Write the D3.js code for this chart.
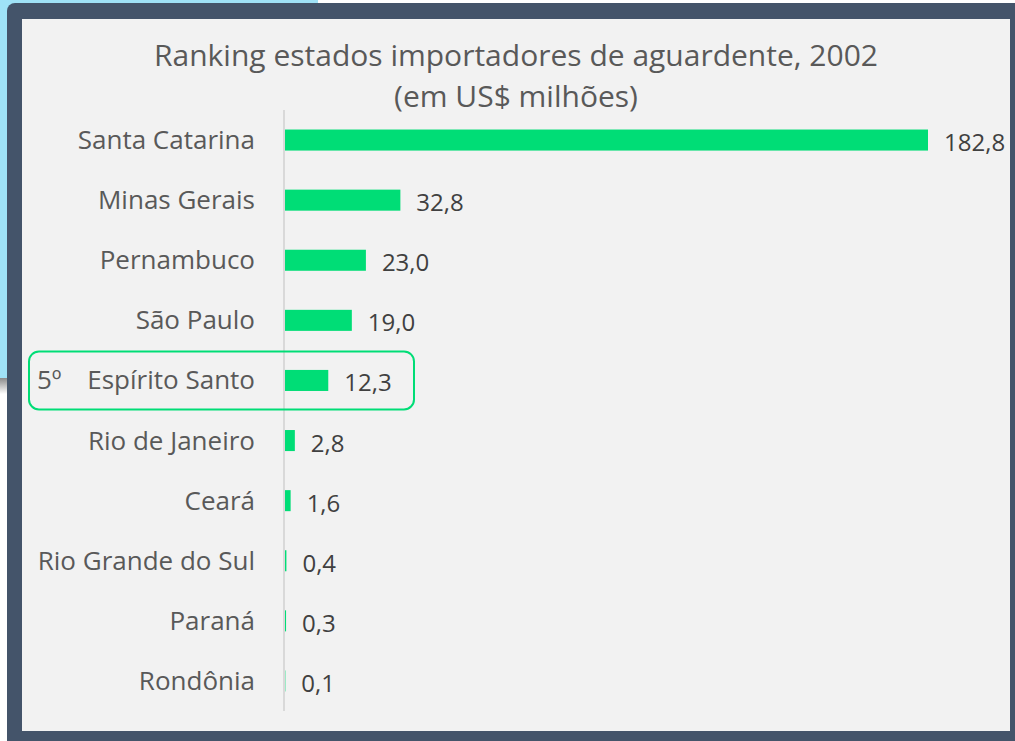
<!DOCTYPE html>
<html>
<head>
<meta charset="utf-8">
<script src="https://cdn.jsdelivr.net/npm/d3@7"></script>
<style>
  html, body { margin: 0; padding: 0; background: #ffffff; }
  svg { display: block; font-family: "Open Sans", "Noto Sans", sans-serif; }
</style>
</head>
<body>
<div id="dataviz"></div>
<script>
const states = ["Santa Catarina", "Minas Gerais", "Pernambuco", "São Paulo", "Espírito Santo",
  "Rio de Janeiro", "Ceará", "Rio Grande do Sul", "Paraná", "Rondônia"];
const values = [182.8, 32.8, 23.0, 19.0, 12.3, 2.8, 1.6, 0.4, 0.3, 0.1];
const titleLines = ["Ranking estados importadores de aguardente, 2002", "(em US$ milhões)"];
const highlight = "Espírito Santo";
const highlightRank = "5º";

const W = 1015, H = 741;
var margin = {top: 110, right: 87, bottom: 30, left: 285};

var svg = d3.select("#dataviz")
  .append("svg")
    .attr("width", W)
    .attr("height", H);

// background pieces: light blue card behind, dark frame, grey panel
svg.append("rect")
  .attr("x", 0).attr("y", 0).attr("width", 318).attr("height", 378)
  .attr("fill", "#9fe2f7");

var shadow = svg.append("defs").append("linearGradient")
  .attr("id", "shadow").attr("x1", 0).attr("y1", 0).attr("x2", 0).attr("y2", 1);
shadow.append("stop").attr("offset", 0).attr("stop-color", "#8a8a8a");
shadow.append("stop").attr("offset", 1).attr("stop-color", "#ffffff");
svg.append("rect")
  .attr("x", 0).attr("y", 378).attr("width", 318).attr("height", 16)
  .attr("fill", "url(#shadow)");

svg.append("rect")
  .attr("x", 7).attr("y", 3).attr("width", W - 7 + 10).attr("height", H - 3 + 10)
  .attr("rx", 8)
  .attr("fill", "#44546a");

svg.append("rect")
  .attr("x", 22).attr("y", 19).attr("width", 1010 - 22).attr("height", 731 - 19)
  .attr("fill", "#f2f2f2");

// title
svg.append("g").selectAll("text")
  .data(titleLines)
  .enter()
  .append("text")
    .attr("x", 516)
    .attr("y", function(d, i) { return 66 + i * 41; })
    .attr("text-anchor", "middle")
    .attr("fill", "#595959")
    .style("font-size", "30px")
    .text(function(d) { return d; });

var x = d3.scaleLinear()
  .domain([0, d3.max(values)])
  .range([margin.left, W - margin.right]);

var y = d3.scaleBand()
  .domain(states)
  .range([margin.top, H - margin.bottom])
  .paddingInner(0.65)
  .paddingOuter(0.325);

var data = states.map(function(s, i) { return {state: s, value: values[i]}; });

// axis line (no ticks)
svg.append("line")
  .attr("x1", x(0) - 1).attr("x2", x(0) - 1)
  .attr("y1", margin.top).attr("y2", H - margin.bottom)
  .attr("stroke", "#d9d9d9")
  .attr("stroke-width", 2);

svg.append("g").selectAll("rect")
  .data(data)
  .enter()
  .append("rect")
    .attr("x", x(0))
    .attr("y", function(d) { return y(d.state); })
    .attr("width", function(d) { return x(d.value) - x(0); })
    .attr("height", y.bandwidth())
    .attr("fill", "#00dd76");

// value labels
svg.append("g").selectAll("text")
  .data(data)
  .enter()
  .append("text")
    .attr("x", function(d) { return x(d.value) + 16; })
    .attr("y", function(d) { return y(d.state) + y.bandwidth() / 2 + 11; })
    .attr("fill", "#404040")
    .style("font-size", "24px")
    .text(function(d) { return d3.format(".1f")(d.value).replace(".", ","); });

// category labels
svg.append("g").selectAll("text")
  .data(data)
  .enter()
  .append("text")
    .attr("x", 255)
    .attr("y", function(d) { return y(d.state) + y.bandwidth() / 2 + 9; })
    .attr("text-anchor", "end")
    .attr("fill", "#595959")
    .style("font-size", "26px")
    .text(function(d) { return d.state; });

// highlight box round 5th place
var hy = y(highlight) + y.bandwidth() / 2;
svg.append("rect")
  .attr("x", 29).attr("y", hy - 29)
  .attr("width", 385).attr("height", 58)
  .attr("rx", 10)
  .attr("fill", "none")
  .attr("stroke", "#00dd76")
  .attr("stroke-width", 2);

svg.append("text")
  .attr("x", 37)
  .attr("y", hy + 9)
  .attr("fill", "#595959")
  .style("font-size", "26px")
  .text(highlightRank);
</script>
</body>
</html>
